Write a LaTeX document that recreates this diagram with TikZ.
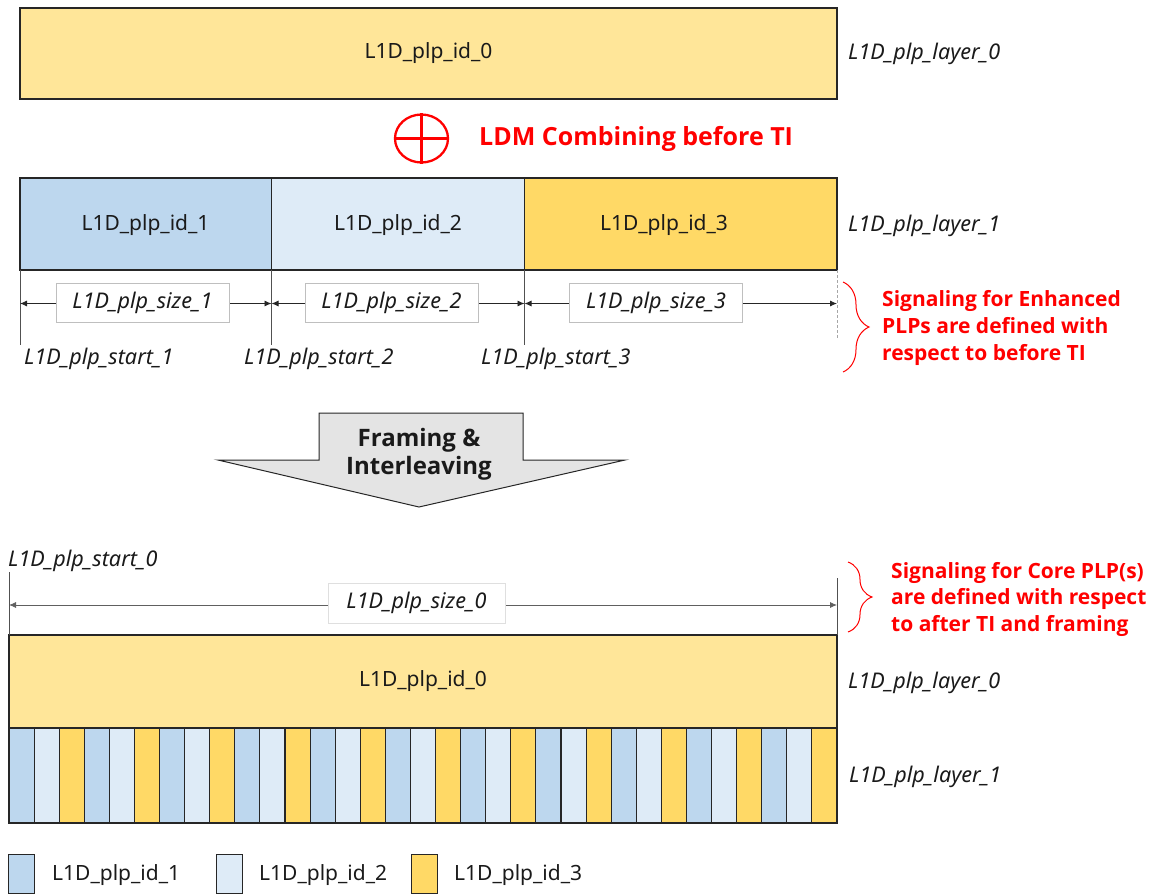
\documentclass[tikz,border=0pt]{standalone}
\usepackage{fontspec}
\setmainfont{Noto Sans}
\newfontfamily\boldsans{Open Sans}
\usetikzlibrary{arrows.meta,decorations.pathreplacing,shapes.geometric}
\definecolor{ybar}{HTML}{FFE699}
\definecolor{bblue}{HTML}{BDD7EE}
\definecolor{lblue}{HTML}{DEEBF7}
\definecolor{gold}{HTML}{FFD966}
\definecolor{edge}{HTML}{262626}
\definecolor{txt}{HTML}{1A1A1A}
\definecolor{boxgray}{HTML}{BFBFBF}
\definecolor{arrowgray}{HTML}{E4E4E4}
\definecolor{sigred}{HTML}{FF0000}
\begin{document}
\begin{tikzpicture}[x=1pt,y=-1pt,
  every node/.style={text=txt},
  bar/.style={draw=edge, line width=1.3pt, inner sep=0pt, outer sep=0pt, anchor=north west,
    font=\fontsize{21}{25}\selectfont},
  plain/.style={font=\fontsize{21}{25}\selectfont, inner sep=0pt},
  lab/.style={font=\fontsize{21.6}{25}\selectfont\itshape, anchor=west, inner sep=0pt},
  sizebox/.style={draw=boxgray, line width=0.8pt, fill=white, inner sep=0pt,
    font=\fontsize{21.6}{25}\selectfont\itshape, minimum width=173pt, minimum height=39pt},
  dim/.style={{Latex[length=7pt,width=6pt]}-{Latex[length=7pt,width=6pt]}, line width=0.8pt, draw=edge},
  vline/.style={draw=edge!80, line width=0.7pt},
  note/.style={text=sigred, font=\boldsans\bfseries\fontsize{21}{27}\selectfont, align=left, anchor=west, inner sep=0pt},
  redbrace/.style={draw=sigred, line width=1pt, decorate, decoration={brace, amplitude=26pt}},
  stripe/.style={draw=edge, line width=1.1pt},
  legsq/.style={draw=edge, line width=1.1pt, minimum width=26pt, minimum height=39pt, inner sep=0pt},
]
\useasboundingbox (0,0) rectangle (1164,895);

% ---------- top layer 0 ----------
\node[bar, fill=ybar, minimum width=817pt, minimum height=91pt] (top) at (20,8) {L1D\_plp\_id\_0};
\node[lab] (toplay) at (848,54) {L1D\_plp\_layer\_0};

% ---------- LDM combining ----------
\node[draw=sigred, line width=2.3pt, ellipse, minimum width=53pt, minimum height=48pt, inner sep=0pt] (ldm) at (421.5,138.5) {};
\draw[sigred, line width=2.3pt] (ldm.north) -- (ldm.south) (ldm.west) -- (ldm.east);
\node[anchor=west, inner sep=0pt, text=sigred, font=\boldsans\bfseries\fontsize{25}{29}\selectfont] (ldmtxt) at (479,139) {LDM Combining before TI};

% ---------- layer 1 before TI ----------
\node[bar, fill=bblue, minimum width=251.5pt, minimum height=92pt] (b1) at (20,178) {};
\node[bar, fill=lblue, minimum width=253pt, minimum height=92pt] (b2) at (271.5,178) {};
\node[bar, fill=gold, minimum width=312.5pt, minimum height=92pt] (b3) at (524.5,178) {};
\node[plain] (t1) at (145.5,225) {L1D\_plp\_id\_1};
\node[plain] (t2) at (398,225) {L1D\_plp\_id\_2};
\node[plain] (t3) at (664,225) {L1D\_plp\_id\_3};
\node[lab] (midlay) at (848,226) {L1D\_plp\_layer\_1};

% vertical marker lines
\coordinate (e1) at (20,345);
\coordinate (e2) at (271.5,345);
\coordinate (e3) at (524.5,345);
\coordinate (e4) at (837,338);
\draw[vline] (b1.south west) -- (e1);
\draw[vline] (b2.south west) -- (e2);
\draw[vline] (b3.south west) -- (e3);
\draw[vline, draw=gray!70, dash pattern=on 3pt off 2pt, line width=0.6pt] (b3.south east) -- (e4);

% size arrows
\coordinate (s1) at (20,303.5);
\coordinate (s2) at (271.5,303.5);
\coordinate (s3) at (524.5,303.5);
\coordinate (s4) at (837,303.5);
\draw[dim] (s1) -- (s2);
\draw[dim] (s2) -- (s3);
\draw[dim] (s3) -- (s4);
\node[sizebox] (sz1) at (142.5,302.5) {L1D\_plp\_size\_1};
\node[sizebox] (sz2) at (391.5,302.5) {L1D\_plp\_size\_2};
\node[sizebox] (sz3) at (656,302.5) {L1D\_plp\_size\_3};

% start labels
\node[lab] (st1) at (24,359) {L1D\_plp\_start\_1};
\node[lab] (st2) at (244,359) {L1D\_plp\_start\_2};
\node[lab] (st3) at (481,359) {L1D\_plp\_start\_3};

% brace + note (enhanced)
\coordinate (br1a) at (843,282);
\coordinate (br1b) at (843,372);
\draw[redbrace] (br1a) -- (br1b);
\node[note] (n1) at (882,327.5) {Signaling for Enhanced\\PLPs are defined with\\respect to before TI};

% ---------- framing & interleaving arrow ----------
\draw[fill=arrowgray, draw=edge, line width=1pt, line join=miter]
  (319,413) -- (523,413) -- (523,460) -- (625,460) -- (419,507) -- (218,460) -- (319,460) -- cycle;
\node[inner sep=0pt, align=center, font=\boldsans\bfseries\fontsize{24}{27.5}\selectfont] (fr) at (419,454.5) {Framing \&\\Interleaving};

% ---------- after TI ----------
\node[lab] (st0) at (8,561) {L1D\_plp\_start\_0};
\node[bar, fill=ybar, minimum width=828pt, minimum height=93pt] (bot) at (9,635) {L1D\_plp\_id\_0};
\coordinate (e0a) at (9,572);
\coordinate (e0b) at (837,578);
\draw[vline] (bot.north west) -- (e0a);
\draw[vline] (bot.north east) -- (e0b);
\coordinate (d0a) at (9,605);
\coordinate (d0b) at (837,605);
\draw[dim, draw=gray!75!black] (d0a) -- (d0b);
\node[sizebox, draw=gray!25, minimum width=177pt, minimum height=40pt] (sz0) at (416.5,603) {L1D\_plp\_size\_0};
\node[lab] (botlay0) at (848,683) {L1D\_plp\_layer\_0};

% brace + note (core)
\coordinate (br2a) at (848,562);
\coordinate (br2b) at (848,632);
\draw[redbrace, decoration={brace, amplitude=24pt}] (br2a) -- (br2b);
\node[note, font=\boldsans\bfseries\fontsize{21}{26.5}\selectfont] (n2) at (891,599) {Signaling for Core PLP(s)\\are defined with respect\\to after TI and framing};

% interleaved stripes
\foreach \k in {0,...,10} {
  \draw[stripe, fill=bblue] ({9+(3*\k)*25.0909},728) rectangle ++(25.0909,95);
  \draw[stripe, fill=lblue] ({9+(3*\k+1)*25.0909},728) rectangle ++(25.0909,95);
  \draw[stripe, fill=gold]  ({9+(3*\k+2)*25.0909},728) rectangle ++(25.0909,95);
}
\node[lab] (botlay1) at (849,777) {L1D\_plp\_layer\_1};

% ---------- legend ----------
\node[legsq, fill=bblue] (lg1) at (21.5,874) {};
\node[plain, anchor=west] (lt1) at (52,875) {L1D\_plp\_id\_1};
\node[legsq, fill=lblue] (lg2) at (229.5,874) {};
\node[plain, anchor=west] (lt2) at (259,875) {L1D\_plp\_id\_2};
\node[legsq, fill=gold] (lg3) at (424.5,874) {};
\node[plain, anchor=west] (lt3) at (454,875) {L1D\_plp\_id\_3};
\end{tikzpicture}
\end{document}
